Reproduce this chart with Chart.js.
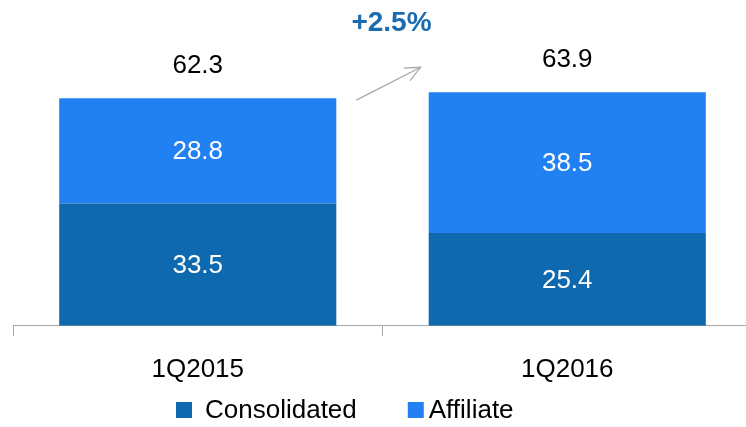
<!DOCTYPE html>
<html>
<head>
<meta charset="utf-8">
<script src="https://cdn.jsdelivr.net/npm/chart.js@4/dist/chart.umd.min.js"></script>
<style>
html,body{margin:0;padding:0;background:#fff;overflow:hidden;}
#wrap{width:746px;height:427px;position:relative;overflow:hidden;}
</style>
</head>
<body>
<div id="wrap"><canvas id="c" width="752" height="427"></canvas></div>
<script>
const categories = ['1Q2015', '1Q2016'];
const consolidated = [33.5, 25.4];
const affiliate = [28.8, 38.5];
const totals = [62.3, 63.9];
const growthLabel = '+2.5%';
const seriesNames = ['Consolidated', 'Affiliate'];

const FONT = '"Liberation Sans", Arial, sans-serif';
const DARK = '#0F69AF';
const LIGHT = '#2181F3';

const labelPlugin = {
  id: 'labels',
  afterDatasetsDraw(chart) {
    const ctx = chart.ctx;
    ctx.save();
    ctx.font = '26px ' + FONT;
    ctx.textAlign = 'center';
    ctx.textBaseline = 'middle';
    chart.data.datasets.forEach((ds, di) => {
      const meta = chart.getDatasetMeta(di);
      meta.data.forEach((bar, i) => {
        const y = (bar.y + bar.base) / 2;
        ctx.fillStyle = '#ffffff';
        ctx.fillText(ds.data[i].toFixed(1), bar.x, y + 1);
      });
    });
    const top = chart.getDatasetMeta(1);
    top.data.forEach((bar, i) => {
      ctx.fillStyle = '#000000';
      ctx.fillText(totals[i].toFixed(1), bar.x, bar.y - 32);
    });
    // growth arrow
    const b0 = top.data[0], b1 = top.data[1];
    const x0 = b0.x + b0.width / 2 + 20, y0 = b0.y + 2;
    const x1 = b1.x - b1.width / 2 - 8, y1 = b1.y - 25;
    ctx.strokeStyle = '#A6A6A6';
    ctx.lineWidth = 1.2;
    ctx.beginPath();
    ctx.moveTo(x0, y0);
    ctx.lineTo(x1, y1);
    ctx.stroke();
    const ang = Math.atan2(y1 - y0, x1 - x0);
    const L = 17;
    ctx.beginPath();
    ctx.moveTo(x1 - L * Math.cos(ang - 0.42), y1 - L * Math.sin(ang - 0.42));
    ctx.lineTo(x1, y1);
    ctx.lineTo(x1 - L * Math.cos(ang + 0.42), y1 - L * Math.sin(ang + 0.42));
    ctx.stroke();
    ctx.fillStyle = '#1A6BB0';
    ctx.font = 'bold 28px ' + FONT;
    ctx.fillText(growthLabel, (b0.x + b1.x) / 2 + 9, 23);

    // legend
    ctx.font = '26px ' + FONT;
    ctx.textAlign = 'left';
    const ly = 410;
    let lx = 176;
    const gaps = [13, 5];
    chart.data.datasets.forEach((ds, di) => {
      ctx.fillStyle = ds.backgroundColor;
      ctx.fillRect(lx, ly - 8, 16, 16);
      lx += 16 + gaps[di];
      ctx.fillStyle = '#000';
      ctx.fillText(ds.label, lx, ly + 1);
      lx += ctx.measureText(ds.label).width + 51;
    });
    ctx.restore();
  }
};

new Chart(document.getElementById('c'), {
  type: 'bar',
  data: {
    labels: categories,
    datasets: [
      { label: seriesNames[0], data: consolidated, backgroundColor: DARK },
      { label: seriesNames[1], data: affiliate, backgroundColor: LIGHT }
    ]
  },
  options: {
    responsive: false,
    animation: false,
    devicePixelRatio: 1,
    layout: { padding: { left: 13, right: 0, top: 70, bottom: 24 } },
    datasets: { bar: { categoryPercentage: 1, barPercentage: 0.75 } },
    scales: {
      x: {
        stacked: true,
        offset: true,
        border: { display: true, color: '#A6A6A6', width: 1 },
        grid: { display: true, drawOnChartArea: false, drawTicks: true, tickLength: 10, color: '#A6A6A6', offset: true },
        ticks: { color: '#000', font: { family: FONT, size: 26 }, padding: 18 }
      },
      y: { stacked: true, display: false, min: 0, max: 70 }
    },
    plugins: {
      legend: { display: false },
      tooltip: { enabled: false }
    }
  },
  plugins: [labelPlugin]
});
</script>
</body>
</html>
